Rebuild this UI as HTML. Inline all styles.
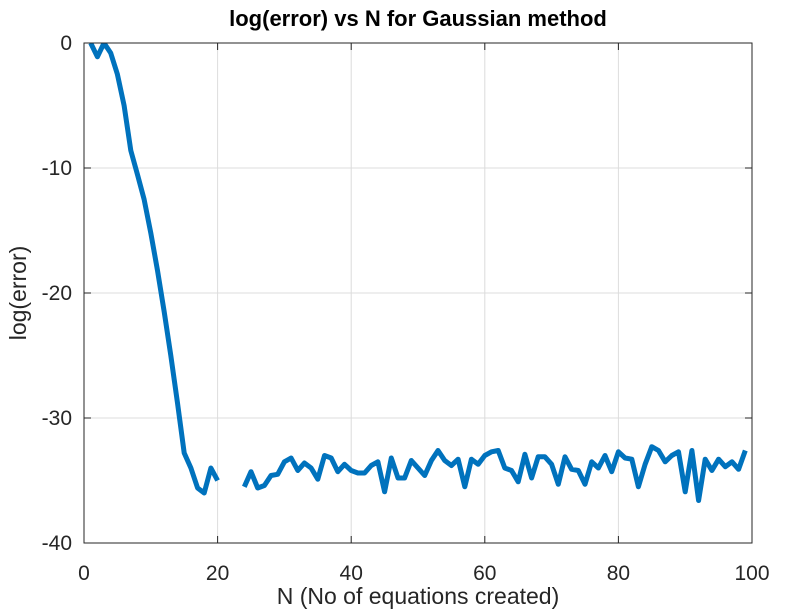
<!DOCTYPE html>
<html><head><meta charset="utf-8"><style>
body{margin:0;background:#fff}
svg{display:block;font-family:"Liberation Sans",Arial,sans-serif}
</style></head><body>
<svg id="chart" width="791" height="612">
<rect width="791" height="612" fill="#fff"/>
<text x="418" y="26" text-anchor="middle" font-size="22" font-weight="bold" fill="#000">log(error) vs N for Gaussian method</text>
<g id="grid"></g><g id="ticks"></g><g id="series"></g>
<rect x="84" y="43" width="668" height="500" fill="none" stroke="#262626" stroke-width="1"/>
<text x="418" y="604" text-anchor="middle" font-size="23" fill="#262626">N (No of equations created)</text>
<text transform="translate(26,293) rotate(-90)" text-anchor="middle" font-size="23" fill="#262626">log(error)</text>
</svg>
<script>
const xTicks=[0,20,40,60,80,100];
const yTicks=[0,-10,-20,-30,-40];
const nValues=[1,2,3,4,5,6,7,8,9,10,11,12,13,14,15,16,17,18,19,20,21,22,23,24,25,26,27,28,29,30,31,32,33,34,35,36,37,38,39,40,41,42,43,44,45,46,47,48,49,50,51,52,53,54,55,56,57,58,59,60,61,62,63,64,65,66,67,68,69,70,71,72,73,74,75,76,77,78,79,80,81,82,83,84,85,86,87,88,89,90,91,92,93,94,95,96,97,98,99];
const logErr=[0,-1.1,0,-0.8,-2.5,-5,-8.6,-10.5,-12.5,-15.2,-18.2,-21.5,-25,-28.8,-32.8,-34,-35.6,-36,-34,-35,null,null,null,
-35.5,-34.3,-35.6,-35.4,-34.6,-34.5,-33.5,-33.2,-34.2,-33.6,-34.0,-34.9,-33.0,-33.2,-34.3,-33.7,-34.2,-34.4,-34.4,-33.8,-33.5,-35.9,-33.2,-34.8,-34.8,-33.4,-34.0,-34.6,-33.4,-32.6,-33.4,-33.8,-33.3,-35.5,-33.3,-33.7,-33.0,-32.7,
-32.6,-34.0,-34.2,-35.1,-32.9,-34.8,-33.1,-33.1,-33.7,-35.3,-33.1,-34.1,-34.2,-35.3,-33.5,-34.0,-33.0,-34.3,-32.7,-33.2,-33.3,-35.5,-33.7,-32.3,-32.6,-33.5,-33.0,-32.7,-35.9,-32.6,-36.6,-33.3,-34.2,-33.3,-33.9,-33.5,-34.1,-32.6];
const NS='http://www.w3.org/2000/svg';
const X=v=>84+(v-0)/100*668, Y=v=>43+(0-v)/40*500;
const grid=document.getElementById('grid'),ticks=document.getElementById('ticks'),series=document.getElementById('series');
function mk(tag,a,p){const e=document.createElementNS(NS,tag);for(const k in a)e.setAttribute(k,a[k]);p.appendChild(e);return e;}
xTicks.forEach(t=>{
 const g=mk('line',{x1:X(t),x2:X(t),y1:43,y2:543,stroke:'#dcdcdc','stroke-width':1},grid);
 
 
 mk('line',{x1:X(t),x2:X(t),y1:543,y2:536,stroke:'#262626'},ticks);
 mk('line',{x1:X(t),x2:X(t),y1:43,y2:50,stroke:'#262626'},ticks);
 const l=mk('text',{x:X(t),y:580,'text-anchor':'middle','font-size':21,fill:'#262626'},ticks);
 l.textContent=t;
 
 
});
yTicks.forEach(t=>{
 const g=mk('line',{x1:84,x2:752,y1:Y(t),y2:Y(t),stroke:'#dcdcdc','stroke-width':1},grid);
 
 
 mk('line',{x1:84,x2:91,y1:Y(t),y2:Y(t),stroke:'#262626'},ticks);
 mk('line',{x1:752,x2:745,y1:Y(t),y2:Y(t),stroke:'#262626'},ticks);
 const l=mk('text',{x:72,y:Y(t)+7,'text-anchor':'end','font-size':21,fill:'#262626'},ticks);
 l.textContent=t;
 
 
});
let d='',pen=false;
nValues.forEach((n,i)=>{const v=logErr[i];if(v===null||v===undefined){pen=false;return;}
 d+=(pen?'L':'M')+X(n).toFixed(1)+' '+Y(v).toFixed(1)+' ';pen=true;});
const clip=mk('clipPath',{id:'pc'},series);mk('rect',{x:84,y:43,width:668,height:500},clip);
const p=mk('path',{d:d,fill:'none',stroke:'#0072bd','stroke-width':5,'stroke-linejoin':'round','clip-path':'url(#pc)'},series);


</script>
</body></html>
